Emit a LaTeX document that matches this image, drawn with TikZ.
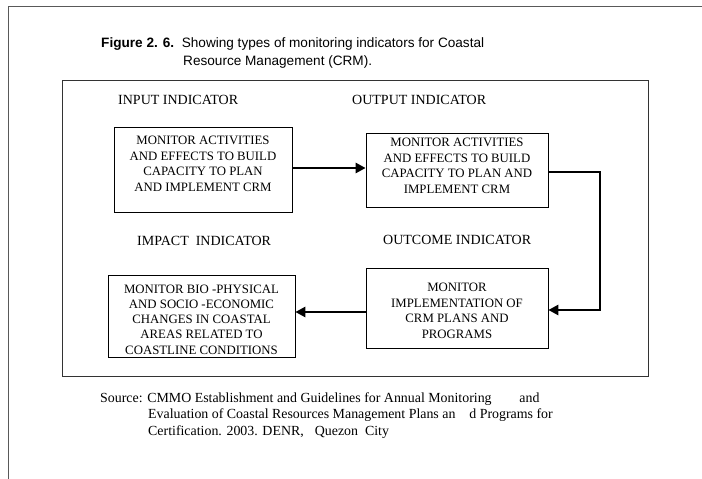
\documentclass[tikz,border=0pt]{standalone}
\usepackage{fontspec}
\setmainfont{Liberation Serif}
\newfontfamily\titlefont{Liberation Sans}
\usetikzlibrary{arrows.meta}
\tikzset{
  pageline/.style={draw=black!65, line width=0.9pt},
  outerbox/.style={draw=black!80, line width=0.9pt},
  ibox/.style={draw=black, line width=0.7pt, inner sep=0pt},
  btext/.style={align=center, font=\fontsize{12.8}{15.5}\selectfont, inner sep=0pt},
  htext/.style={font=\fontsize{14}{16}\selectfont, inner sep=0pt, anchor=west},
  ttext/.style={anchor=base west, inner sep=0pt, font=\titlefont\fontsize{13.6}{16}\selectfont},
  stext/.style={anchor=base west, inner sep=0pt, font=\fontsize{13.9}{16}\selectfont},
  flow/.style={line width=2.6pt, -{Triangle[length=10pt,width=10pt]}},
}
\begin{document}
\begin{tikzpicture}[x=1pt,y=-1pt]
\useasboundingbox (0,0) rectangle (702,479);
% page frame
\draw[pageline] (8,479) -- (8,6) -- (702,6);
% title
\node[ttext] (t1) at (101,47) {\textbf{Figure 2. 6.}\ \ Showing types of monitoring indicators for Coastal};
\node[ttext] (t2) at (183,65) {Resource Management (CRM).};
% outer box
\draw[outerbox] (62,80) rectangle (648,376);
% headers
\node[htext] (hin) at (118,100) {INPUT INDICATOR};
\node[htext] (hout) at (352,100) {OUTPUT INDICATOR};
\node[htext] (himp) at (137,241) {IMPACT\ \ INDICATOR};
\node[htext] (hoc) at (383,240) {OUTCOME INDICATOR};
% boxes
\node[ibox, minimum width=178pt, minimum height=85pt] (b1) at (203,169.5) {};
\node[ibox, minimum width=182pt, minimum height=74pt] (b2) at (457,170) {};
\node[ibox, minimum width=182pt, minimum height=80pt] (b3) at (457,308) {};
\node[ibox, minimum width=187pt, minimum height=82pt] (b4) at (201.5,316) {};
\node[btext] (x1) at (203,164) {MONITOR ACTIVITIES\\AND EFFECTS TO BUILD\\CAPACITY TO PLAN\\AND IMPLEMENT CRM};
\node[btext] (x2) at (457,166) {MONITOR ACTIVITIES\\AND EFFECTS TO BUILD\\CAPACITY TO PLAN AND\\IMPLEMENT CRM};
\node[btext] (x3) at (457,311) {MONITOR\\IMPLEMENTATION OF\\CRM PLANS AND\\PROGRAMS};
\node[btext, font=\fontsize{12.8}{15.2}\selectfont] (x4) at (201.5,319.5) {MONITOR BIO -PHYSICAL\\AND SOCIO -ECONOMIC\\CHANGES IN COASTAL\\AREAS RELATED TO\\COASTLINE CONDITIONS};
% connectors
\coordinate (c1) at (600,172);
\coordinate (c2) at (600,310);
\draw[flow] (b1.east |- 0,168) -- (b2.west |- 0,168);
\draw[flow] (b2.east |- c1) -- (c1) -- (c2) -- (b3.east |- c2);
\draw[flow] (b3.west |- 0,312) -- (b4.east |- 0,312);
% source
\node[stext] (s1) at (100,402) {Source: CMMO Establishment and Guidelines for Annual Monitoring\hspace{2em}and};
\node[stext] (s2) at (148,418.5) {Evaluation of Coastal Resources Management Plans an\hspace{1em}d Programs for};
\node[stext] (s3) at (148,435) {Certification. 2003. DENR,\hspace{0.8em}Quezon\ \ City};
\end{tikzpicture}
\end{document}
